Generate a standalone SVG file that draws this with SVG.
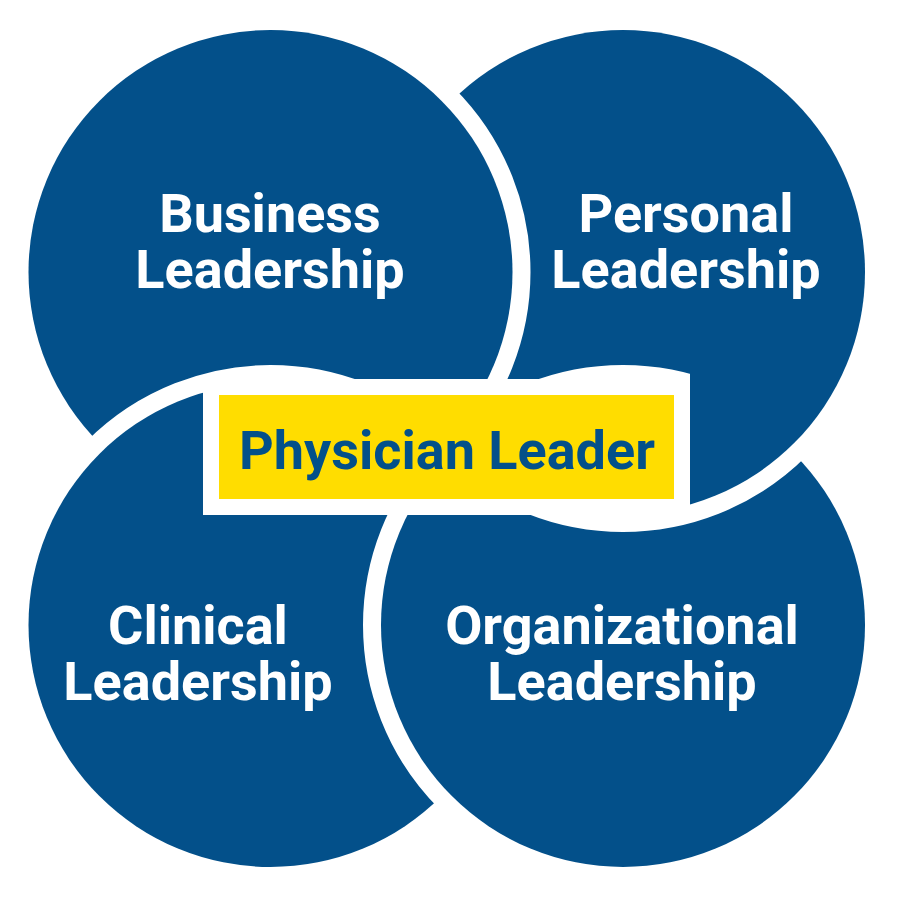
<svg xmlns="http://www.w3.org/2000/svg" xmlns:xlink="http://www.w3.org/1999/xlink" width="900" height="900" viewBox="0 0 900 900">
  <defs>
    <style>
      .disc { fill: #03508A; stroke: #FFFFFF; stroke-width: 36; paint-order: stroke; }
      .lbl { font-family: Roboto, "Liberation Sans", Arial, sans-serif; font-weight: 700; font-size: 54px; fill: #FFFFFF; text-anchor: middle; }
      .core { font-family: Roboto, "Liberation Sans", Arial, sans-serif; font-weight: 700; font-size: 54px; fill: #03508A; text-anchor: middle; }
    </style>
    <clipPath id="weaveClip">
      <polygon points="690,300 900,300 900,600 440,600 440,379 690,379"/>
    </clipPath>
  </defs>
  <rect x="0" y="0" width="900" height="900" fill="#FFFFFF"/>

  <g id="personal">
    <circle id="personal-disc" class="disc" cx="623" cy="272" r="242"/>
    <text class="lbl" x="686" y="232">Personal</text>
    <text class="lbl" x="686" y="288">Leadership</text>
  </g>

  <g id="business">
    <circle class="disc" cx="270.5" cy="272" r="242"/>
    <text class="lbl" x="270" y="232">Business</text>
    <text class="lbl" x="270" y="288">Leadership</text>
  </g>

  <g id="clinical">
    <circle class="disc" cx="270.5" cy="625" r="242"/>
    <text class="lbl" x="198" y="644">Clinical</text>
    <text class="lbl" x="198" y="700">Leadership</text>
  </g>

  <g id="organizational">
    <circle class="disc" cx="623" cy="625" r="242"/>
    <text class="lbl" x="622" y="644">Organizational</text>
    <text class="lbl" x="622" y="700">Leadership</text>
  </g>

  <g id="personal-weave" clip-path="url(#weaveClip)">
    <use xlink:href="#personal-disc" href="#personal-disc"/>
  </g>

  <g id="physician-leader">
    <rect x="203" y="379" width="487" height="136" fill="#FFFFFF"/>
    <rect x="219" y="395" width="455" height="104" fill="#FFDD00"/>
    <text class="core" x="447" y="469">Physician Leader</text>
  </g>
</svg>
